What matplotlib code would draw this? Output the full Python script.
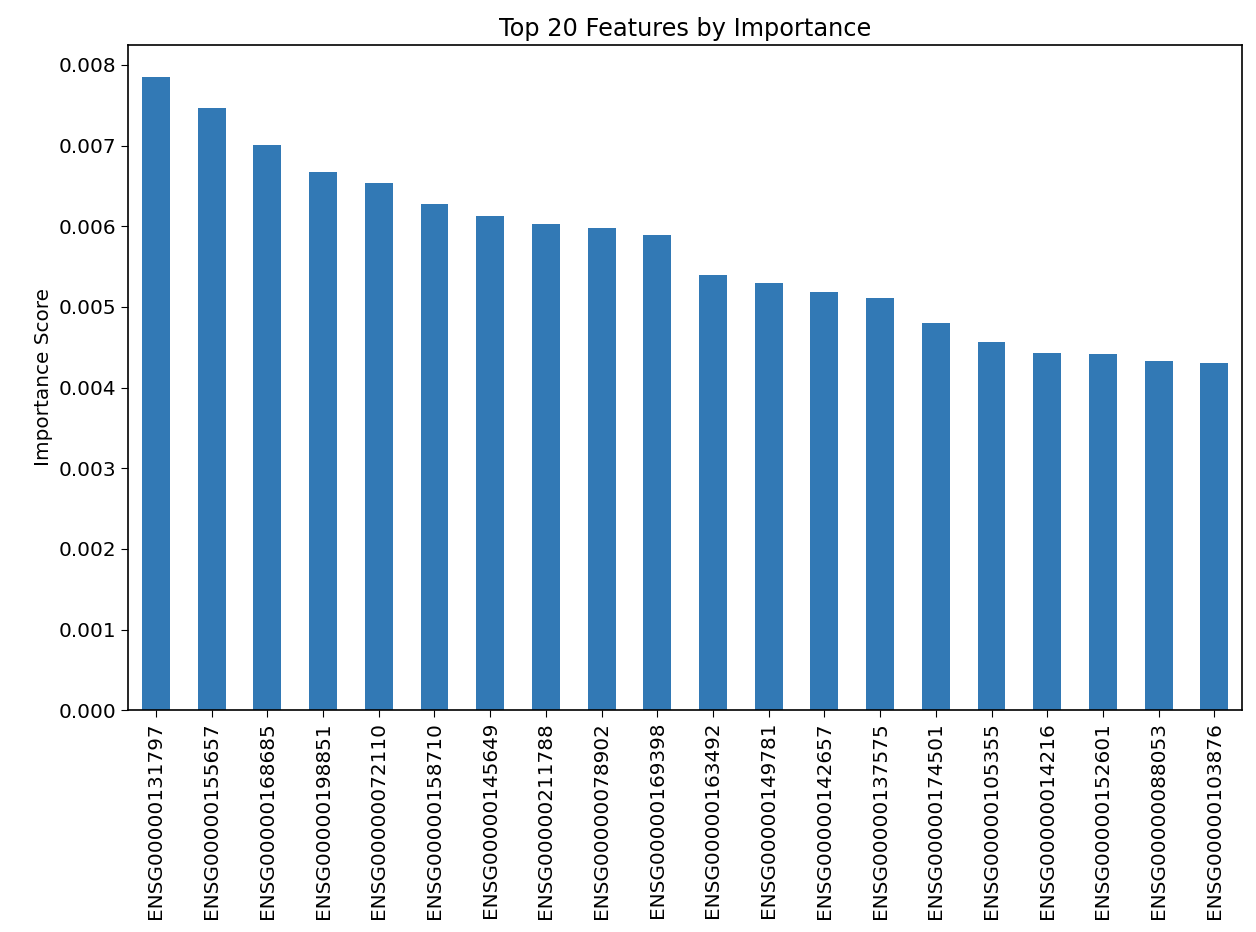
import matplotlib
matplotlib.use("Agg")
import matplotlib.pyplot as plt
import numpy as np

features = [
    "ENSG00000131797", "ENSG00000155657", "ENSG00000168685", "ENSG00000198851",
    "ENSG00000072110", "ENSG00000158710", "ENSG00000145649", "ENSG00000211788",
    "ENSG00000078902", "ENSG00000169398", "ENSG00000163492", "ENSG00000149781",
    "ENSG00000142657", "ENSG00000137575", "ENSG00000174501", "ENSG00000105355",
    "ENSG00000014216", "ENSG00000152601", "ENSG00000088053", "ENSG00000103876",
]
importance = [
    0.00785, 0.00746, 0.00701, 0.00667, 0.00654, 0.00627, 0.00613, 0.00603,
    0.00598, 0.00589, 0.00540, 0.00530, 0.00518, 0.00511, 0.00480, 0.00457,
    0.00443, 0.00442, 0.00433, 0.00431,
]

# reference was rendered at a higher dpi, so everything is ~1.44x larger
plt.rcParams['font.size'] = 14.4
plt.rcParams['axes.linewidth'] = 1.2
plt.rcParams['xtick.major.size'] = 5
plt.rcParams['ytick.major.size'] = 5

fig = plt.figure(figsize=(12.56, 9.32), dpi=100)
ax = fig.add_axes([0.102, 0.238, 0.887, 0.714])
x = np.arange(len(features))
ax.bar(x, importance, width=0.5, color="#3279b5")
ax.set_xlim(-0.5, len(features) - 0.5)
ax.set_ylim(0, 0.00825)
ax.set_xticks(x)
ax.set_xticklabels(features, rotation=90)
ax.set_ylabel("Importance Score")
ax.set_title("Top 20 Features by Importance")
fig.savefig("out.png", dpi=100)
